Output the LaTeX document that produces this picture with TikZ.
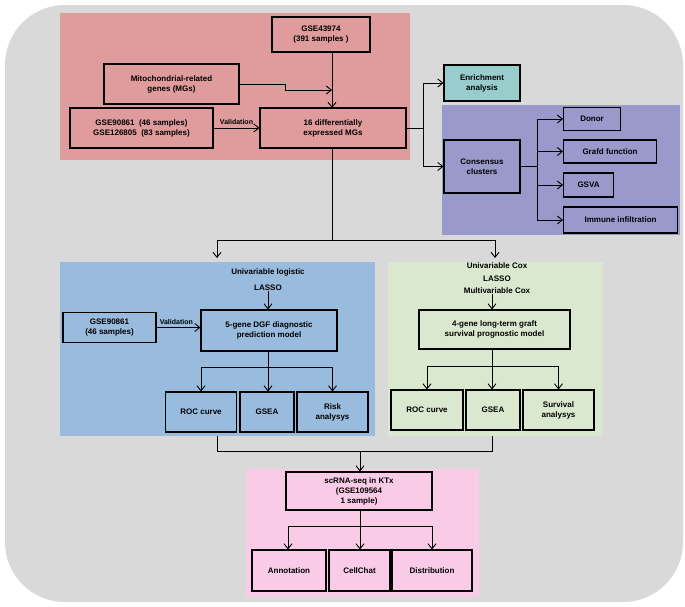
\documentclass[tikz,border=0pt]{standalone}
\usepackage{fontspec}
\setmainfont{Liberation Sans}
\usetikzlibrary{arrows.meta}
\definecolor{bg}{HTML}{D9D9D9}
\definecolor{redr}{HTML}{E09C9C}
\definecolor{teal}{HTML}{99CCCC}
\definecolor{purp}{HTML}{9999CC}
\definecolor{blu}{HTML}{99BBDD}
\definecolor{grn}{HTML}{D9E8CF}
\definecolor{pnk}{HTML}{F9CBE6}
\begin{document}
\begin{tikzpicture}[x=1pt,y=-1pt,
 box/.style={draw=black,line width=1.1pt,inner sep=0pt,align=center,font=\fontsize{8}{10}\selectfont\bfseries},
 lbl/.style={inner sep=0pt,align=center,font=\fontsize{8}{10}\selectfont\bfseries},
 ar/.style={-{Straight Barb[length=5pt,width=8pt]},line width=0.9pt},
 ln/.style={line width=0.9pt}]
\useasboundingbox (0,0) rectangle (685,606);
\fill[white] (0,0) rectangle (685,606);
\fill[bg,rounded corners=60pt] (5,5) rectangle (683,602);
% regions
\fill[redr] (60,13) rectangle (410,160);
\fill[purp] (442,105) rectangle (680,235);
\fill[blu] (60,262) rectangle (375,436);
\fill[grn] (388,262) rectangle (603,436);
\fill[pnk] (246,469) rectangle (479,597);
% top nodes
\node[box,minimum width=98pt,minimum height=35pt] (g43) at (321,34.5) {GSE43974\\(391 samples )};
\node[box,minimum width=135pt,minimum height=40pt] (mito) at (171.5,84) {Mitochondrial-related\\genes (MGs)};
\node[box,minimum width=143pt,minimum height=40pt] (g90) at (141.5,128) {GSE90861\ \ (46 samples)\\GSE126805\ \ (83 samples)};
\node[box,minimum width=146pt,minimum height=40pt] (deg) at (333,128) {16 differentially\\expressed MGs};
\node[box,fill=teal,minimum width=76pt,minimum height=36pt] (enr) at (482,83) {Enrichment\\analysis};
\node[box,minimum width=76pt,minimum height=53pt] (cons) at (482,166.5) {Consensus\\clusters};
\node[box,anchor=west,minimum width=57pt,minimum height=23pt] (don) at (563,119) {Donor};
\node[box,anchor=west,minimum width=93pt,minimum height=23pt] (gra) at (563,151.5) {Grafd function};
\node[box,anchor=west,minimum width=50pt,minimum height=24pt] (gsva) at (563,185) {GSVA};
\node[box,anchor=west,minimum width=114pt,minimum height=26pt] (imm) at (563,220) {Immune infiltration};
% top connectors
\draw[ar] (g43.south -| 332,0) -- (332,108);
\coordinate (m1) at (285,84);
\draw[ar] (mito.east) -- (m1) -- (285,90) -- (332,90);
\draw[ar] (g90.east) -- node[lbl,above=3pt,font=\fontsize{7}{8}\selectfont\bfseries]{Validation} (deg.west);
\coordinate (b1) at (423,128);
\draw[ln] (deg.east) -- (b1);
\draw[ar] (b1) |- (enr.west);
\draw[ar] (b1) |- (cons.west);
\coordinate (c1) at (537,166.5);
\draw[ln] (cons.east) -- (c1);
\draw[ar] (c1) |- (don.west);
\draw[ar] (c1) |- (gra.west);
\draw[ar] (c1) |- (gsva.west);
\draw[ar] (c1) |- (imm.west);
% split
\coordinate (s1) at (332,240);
\draw[ln] (deg.south -| 332,0) -- (s1);
\coordinate (sl) at (217,240);
\coordinate (sr) at (495,240);
\draw[ln] (sl) -- (sr);
\draw[ar] (sl) -- (217,258);
\draw[ar] (sr) -- (495,258);
% blue
\node[lbl] (ul) at (268,272) {Univariable logistic};
\node[lbl] (las1) at (268,288) {LASSO};
\node[box,minimum width=93pt,minimum height=30pt] (gv) at (109.5,327.5) {GSE90861\\(46 samples)};
\node[box,minimum width=136pt,minimum height=41pt] (dgf) at (269,330.5) {5-gene DGF diagnostic\\prediction model};
\draw[ar] (las1.south -| 268,0) -- (dgf.north -| 268,0);
\draw[ar] (gv.east) -- node[lbl,above=2pt,font=\fontsize{7}{8}\selectfont\bfseries,pos=0.45]{Validation} (gv.east -| dgf.west);
\node[box,minimum width=71pt,minimum height=40pt] (roc1) at (201,412) {ROC curve};
\node[box,minimum width=54pt,minimum height=40pt] (gsea1) at (267,412) {GSEA};
\node[box,minimum width=71pt,minimum height=40pt] (risk) at (332.5,412) {Risk\\analysys};
\coordinate (f1) at (268,367);
\draw[ln] (dgf.south -| 268,0) -- (f1);
\draw[ln] (roc1.north |- f1) -- (risk.north |- f1);
\draw[ar] (roc1.north |- f1) -- (roc1.north);
\draw[ar] (f1) -- (gsea1.north -| 268,0);
\draw[ar] (risk.north |- f1) -- (risk.north);
% green
\node[lbl] (uc) at (497,266) {Univariable Cox};
\node[lbl] (las2) at (497,279) {LASSO};
\node[lbl] (mc) at (497,291) {Multivariable Cox};
\node[box,minimum width=151pt,minimum height=39pt] (ltg) at (494.5,329.5) {4-gene long-term graft\\survival prognostic model};
\draw[ar] (mc.south -| 492,0) -- (ltg.north -| 492,0);
\node[box,minimum width=72pt,minimum height=40pt] (roc2) at (427,410) {ROC curve};
\node[box,minimum width=54pt,minimum height=40pt] (gsea2) at (493,410) {GSEA};
\node[box,minimum width=71pt,minimum height=40pt] (surv) at (558.5,410) {Survival\\analysys};
\coordinate (f2) at (492,366);
\draw[ln] (ltg.south -| 492,0) -- (f2);
\draw[ln] (roc2.north |- f2) -- (surv.north |- f2);
\draw[ar] (roc2.north |- f2) -- (roc2.north);
\draw[ar] (f2) -- (gsea2.north -| 492,0);
\draw[ar] (surv.north |- f2) -- (surv.north);
% bottom join
\coordinate (jl) at (217,451);
\coordinate (jr) at (492,451);
\coordinate (jm) at (360,451);
\draw[ln] (217,436) -- (jl) -- (jr) -- (492,436);
\node[box,minimum width=146pt,minimum height=38pt] (sc) at (359,491) {scRNA-seq in KTx\\(GSE109564\\1 sample)};
\draw[ar] (jm) -- (sc.north -| 360,0);
\node[box,minimum width=74pt,minimum height=41pt] (ann) at (289,570.5) {Annotation};
\node[box,minimum width=61pt,minimum height=41pt] (cc) at (359.5,570.5) {CellChat};
\node[box,minimum width=80pt,minimum height=41pt] (dist) at (432,570.5) {Distribution};
\coordinate (f3) at (360,526);
\draw[ln] (sc.south -| 360,0) -- (f3);
\draw[ln] (288,526) -- (432,526);
\draw[ar] (288,526) -- (ann.north -| 288,0);
\draw[ar] (f3) -- (cc.north -| 360,0);
\draw[ar] (432,526) -- (dist.north -| 432,0);
\end{tikzpicture}
\end{document}
